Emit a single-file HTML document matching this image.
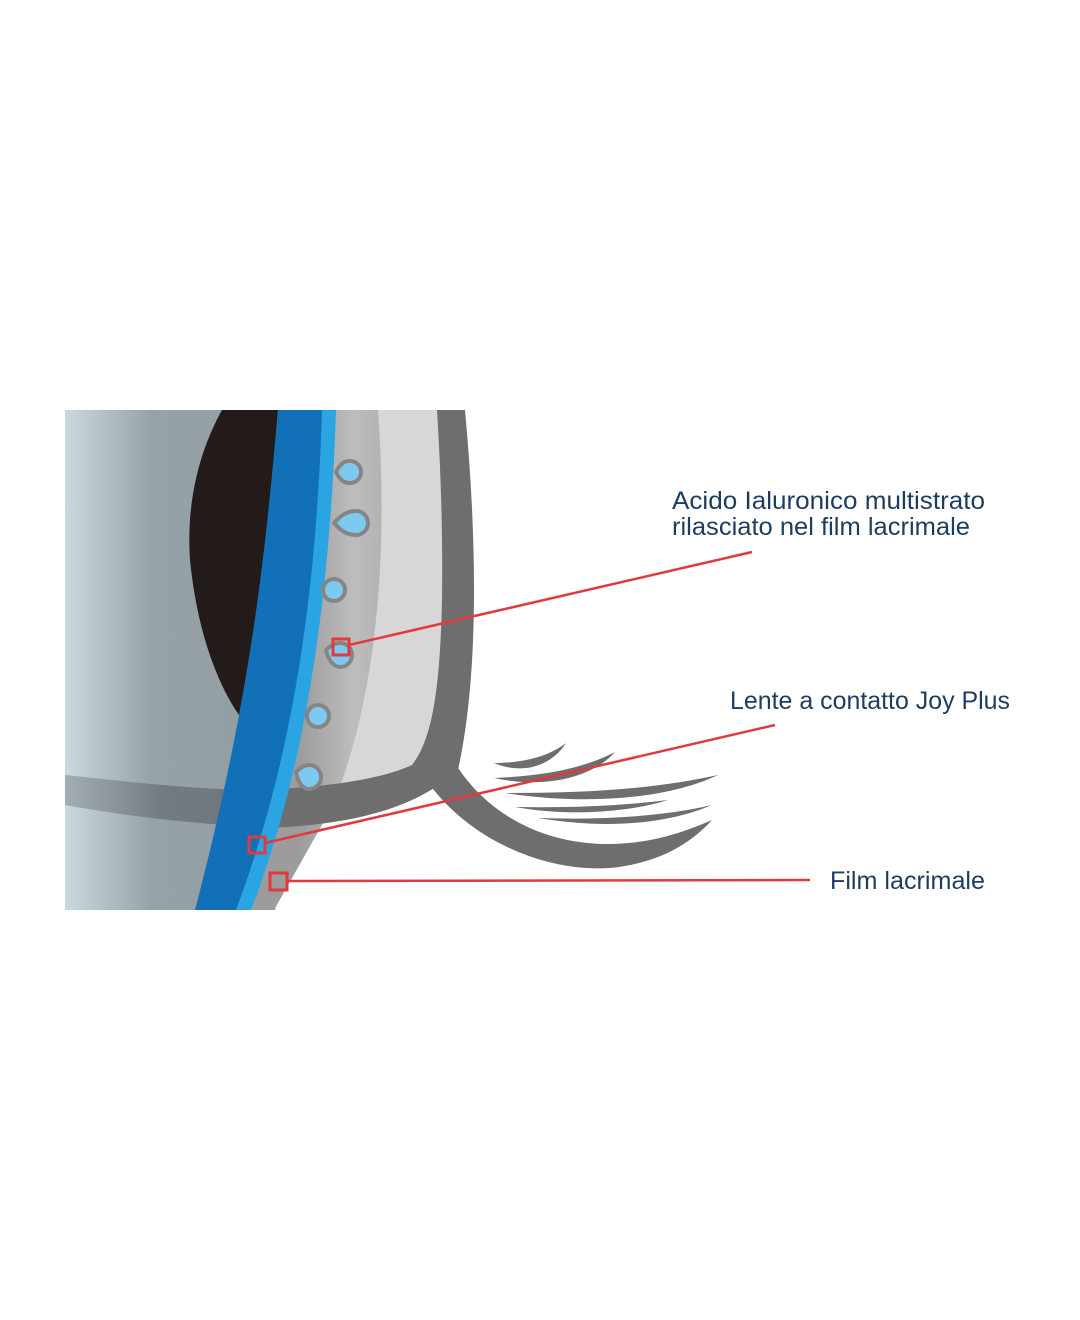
<!DOCTYPE html>
<html><head><meta charset="utf-8"><style>html,body{margin:0;padding:0;background:#fff}svg{display:block}</style></head>
<body>
<svg width="1080" height="1320" viewBox="0 0 1080 1320" xmlns="http://www.w3.org/2000/svg">
<defs>
<clipPath id="c"><rect x="65" y="410" width="1015" height="500"/></clipPath>
<linearGradient id="bg" x1="65" x2="260" y1="0" y2="0" gradientUnits="userSpaceOnUse">
<stop offset="0" stop-color="#cad9df"/><stop offset="0.45" stop-color="#95a2a8"/><stop offset="1" stop-color="#939ea4"/></linearGradient>
<linearGradient id="band" x1="65" x2="260" y1="0" y2="0" gradientUnits="userSpaceOnUse">
<stop offset="0" stop-color="#a3aeb3"/><stop offset="0.5" stop-color="#737b80"/><stop offset="1" stop-color="#6f767b"/></linearGradient>
<linearGradient id="tf" x1="300" x2="390" y1="0" y2="0" gradientUnits="userSpaceOnUse">
<stop offset="0" stop-color="#9c9c9c"/><stop offset="0.6" stop-color="#bdbdbd"/><stop offset="1" stop-color="#b0b0b0"/></linearGradient>
</defs>
<g clip-path="url(#c)">
<path d="M65,410 H300 V825 L275,910 H65 Z" fill="url(#bg)"/>
<!-- light gray zone -->
<path d="M300,410 L465,410 C470,560 468,680 450,770 L300,805 Z" fill="#d7d7d7"/>
<!-- tear film medium gray -->
<path d="M320,410 L378,410 C388,550 378,690 335,800 L322,825 L274,910 L230,910 Z" fill="url(#tf)"/>
<!-- band left -->
<path d="M65,775 C130,782 200,790 260,790 L250,826 C190,824 120,815 65,805 Z" fill="url(#band)"/>
<!-- pupil -->
<path d="M222,410 L282,410 L262,740 C235,720 200,660 190,560 C186,500 200,450 222,410 Z" fill="#231a1a"/>
<!-- lid -->
<path d="M437,410 L465,410 C478,550 478,680 458,770 C420,805 360,825 265,828 L255,790 C320,788 380,780 412,765 C432,740 440,690 442,600 C443,520 440,460 437,410 Z" fill="#6e6e6e"/>
<!-- lower lid branch -->
<path d="M425,778 C470,845 560,878 625,866 C665,859 692,842 712,820 C680,834 650,843 612,844 C548,845 492,818 458,768 Z" fill="#6e6e6e"/>
<!-- lashes -->
<path d="M494,763 C525,776 553,764 566,743 C548,757 522,763 494,763 Z" fill="#6e6e6e"/>
<path d="M494,778 C550,790 595,775 615,752 C580,770 540,776 494,778 Z" fill="#6e6e6e"/>
<path d="M505,793 C590,806 670,798 718,775 C650,790 580,793 505,793 Z" fill="#6e6e6e"/>
<path d="M515,807 C570,817 630,812 668,800 C620,806 570,808 515,807 Z" fill="#6e6e6e"/>
<path d="M538,818 C610,830 670,823 712,805 C660,817 600,820 538,818 Z" fill="#6e6e6e"/>
<!-- lens -->
<path d="M278,410 L336,410 C330,600 305,770 251,910 L195,910 C250,700 265,560 278,410 Z" fill="#2aa4e2"/>
<path d="M278,410 L322,410 C316,600 292,760 236,910 L195,910 C250,700 265,560 278,410 Z" fill="#1170b8"/>
<!-- droplets -->
<g fill="#7dc9ef" stroke="#858585" stroke-width="4">
<path d="M336,472 C340,464 344,461 350,461 A11,11 0 1 1 350,483 C344,483 340,480 336,472 Z"/>
<path d="M334,523 C342,514 348,511 356,511 A12,12 0 1 1 356,535 C348,535 342,532 334,523 Z"/>
<circle cx="334" cy="590" r="11"/>
<path d="M326,650 C332,644 336,643 340,643 A12,12 0 1 1 340,667 C334,667 328,660 326,650 Z"/>
<circle cx="318" cy="716" r="11"/>
<path d="M296,772 C301,767 305,765 309,765 A12,12 0 1 1 309,789 C302,789 298,782 296,772 Z"/>
</g>
</g>
<!-- leaders -->
<g stroke="#e0393e" stroke-width="2.5" fill="none">
<line x1="349" y1="645" x2="752" y2="552"/>
<line x1="265" y1="843" x2="775" y2="725"/>
<line x1="287" y1="881" x2="810" y2="880"/>
<rect x="333" y="639" width="16" height="16" stroke-width="3"/>
<rect x="249" y="837" width="16" height="16" stroke-width="3"/>
<rect x="270" y="873" width="17" height="17" stroke-width="3"/>
</g>
<g font-family="Liberation Sans, sans-serif" font-size="25" fill="#1d3c5e">
<text x="672" y="509" textLength="313" lengthAdjust="spacingAndGlyphs">Acido Ialuronico multistrato</text>
<text x="672" y="535" textLength="298" lengthAdjust="spacingAndGlyphs">rilasciato nel film lacrimale</text>
<text x="730" y="709" textLength="280" lengthAdjust="spacingAndGlyphs">Lente a contatto Joy Plus</text>
<text x="830" y="889" textLength="155" lengthAdjust="spacingAndGlyphs">Film lacrimale</text>
</g>
</svg>
</body></html>
